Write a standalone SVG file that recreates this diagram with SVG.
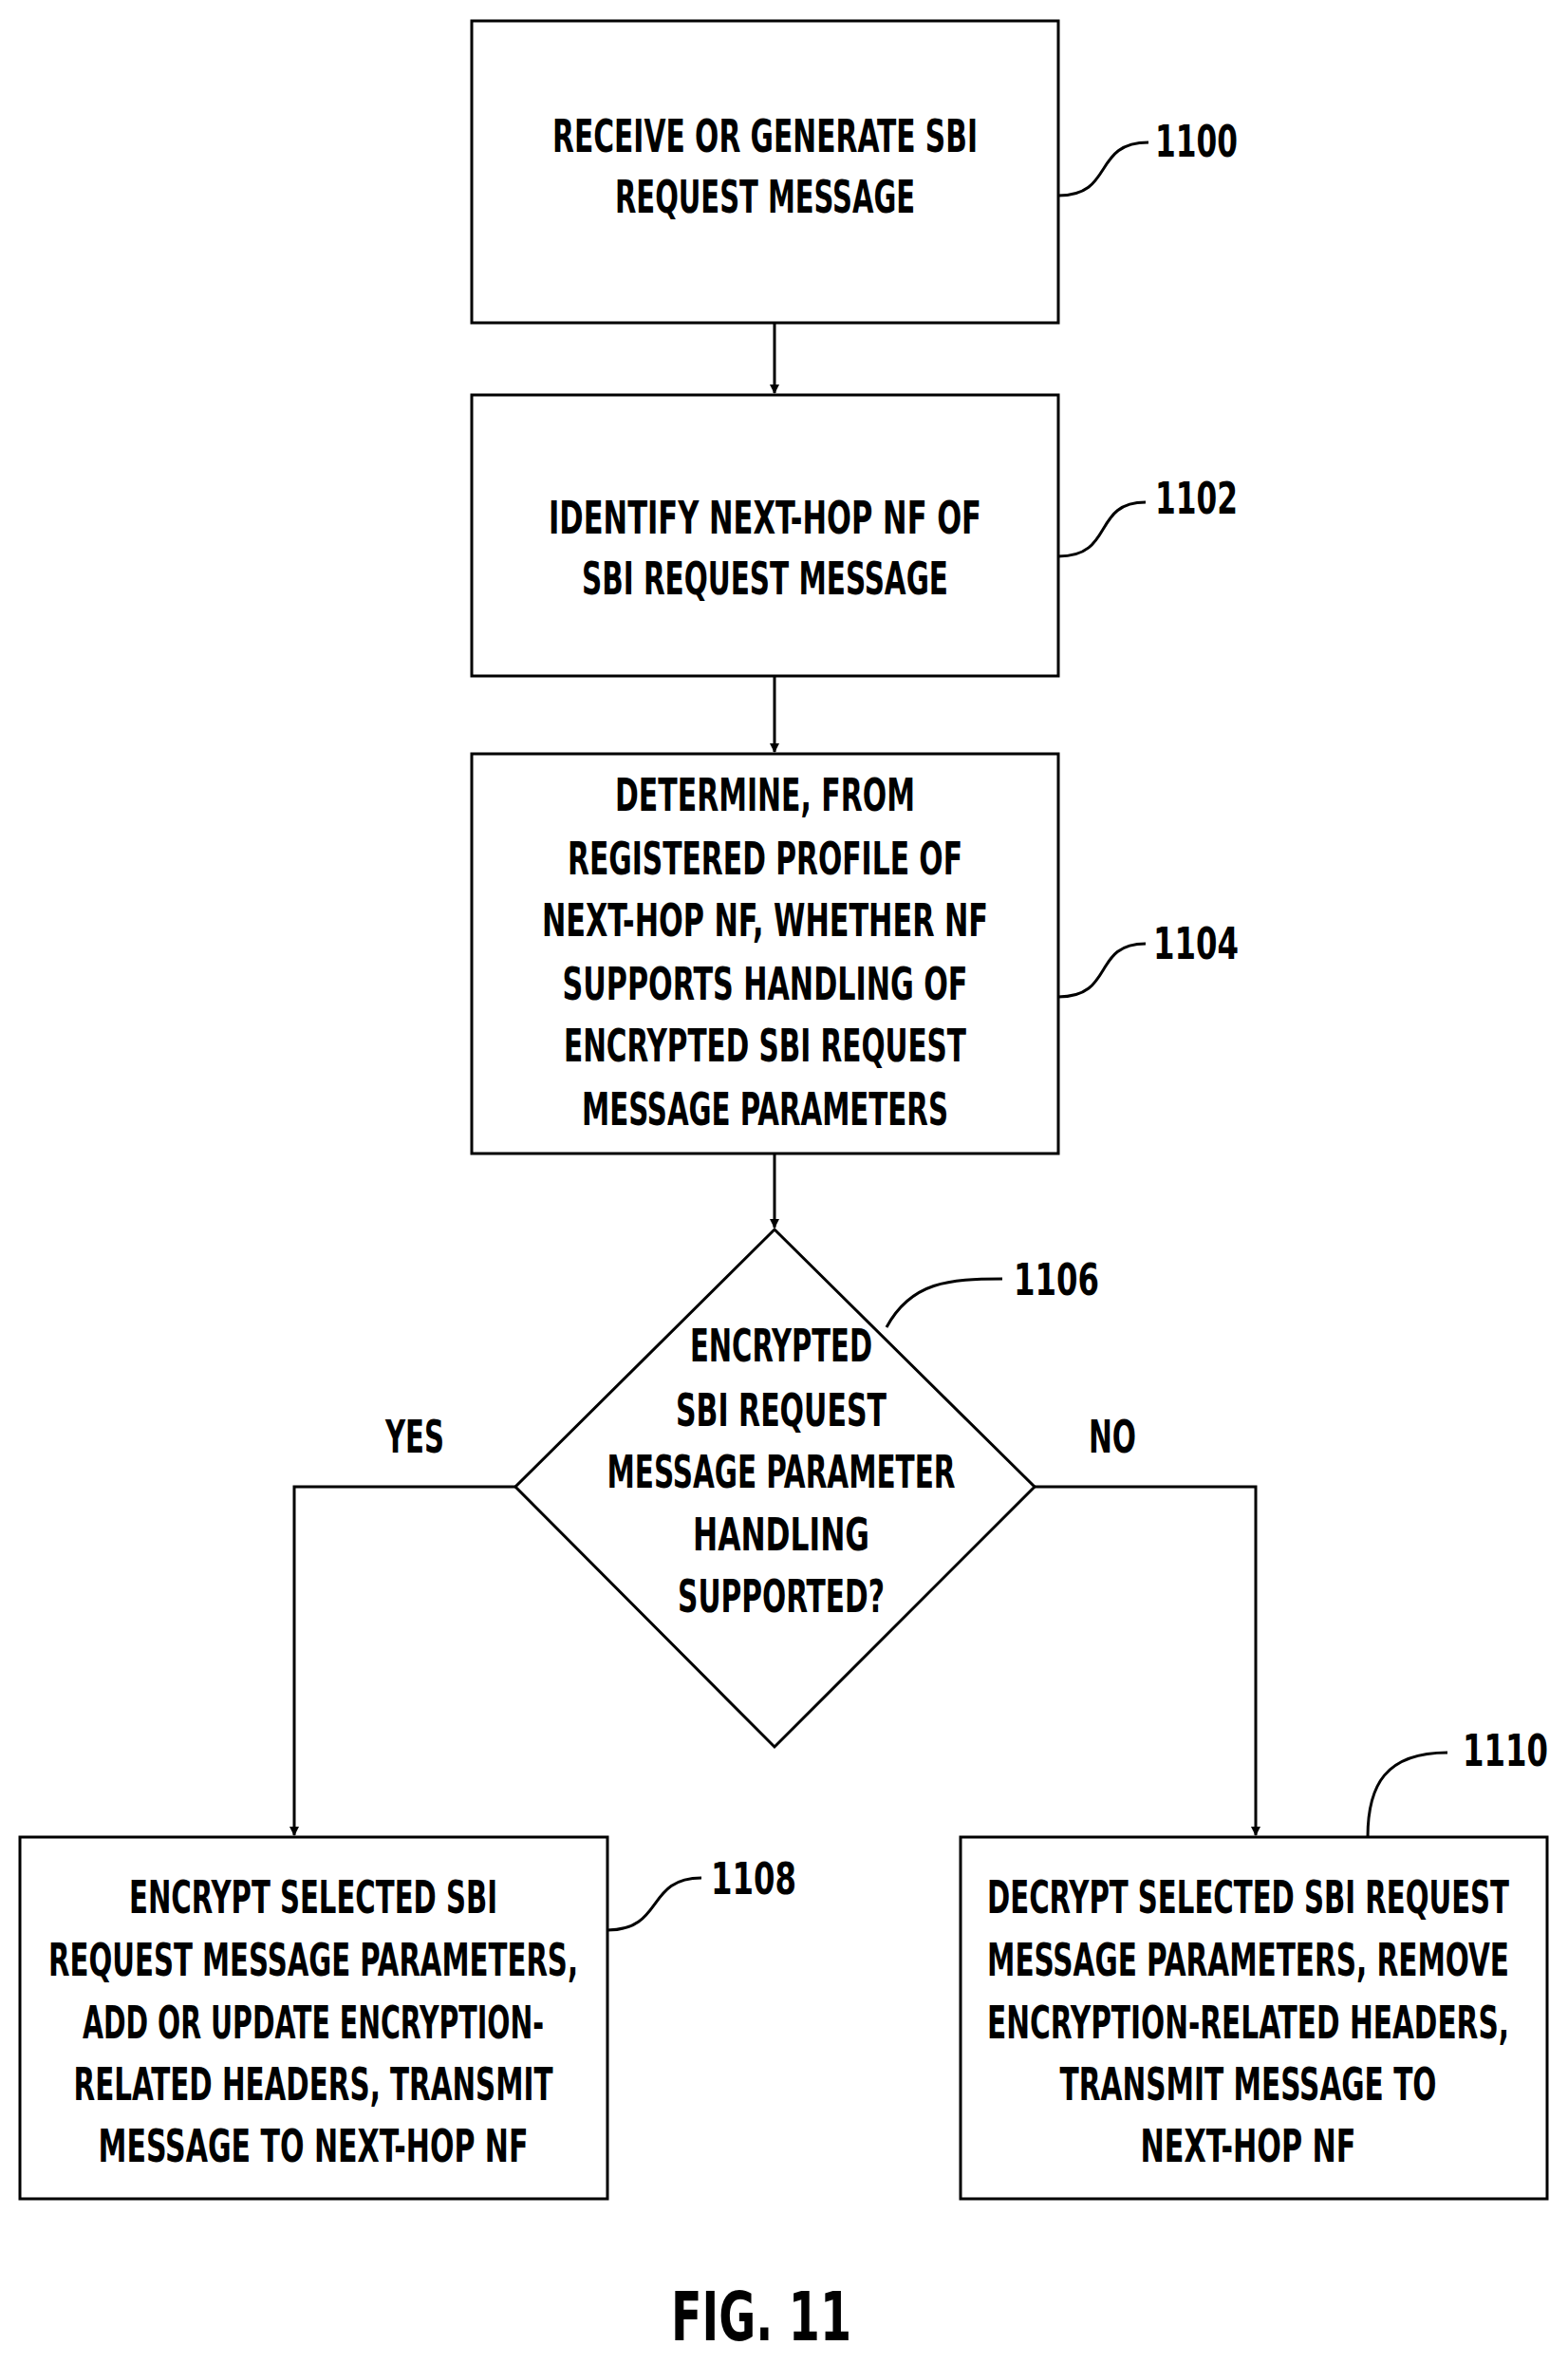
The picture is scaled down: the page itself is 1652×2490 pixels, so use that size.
<svg xmlns="http://www.w3.org/2000/svg" width="1652" height="2490" viewBox="0 0 1652 2490">
<style>
.b{fill:#fff;stroke:#000;stroke-width:3}
.t{font-family:"DejaVu Sans Condensed","DejaVu Sans",sans-serif;font-weight:bold;font-size:48px;text-anchor:middle}
.l{font-family:"DejaVu Sans Condensed","DejaVu Sans",sans-serif;font-weight:bold;font-size:46px}
.c{fill:none;stroke:#000;stroke-width:3}
</style>
<defs><marker id="a" markerWidth="10" markerHeight="10" refX="9" refY="5" orient="auto" markerUnits="userSpaceOnUse" viewBox="0 0 10 10"><path d="M0,0 L10,5 L0,10 z" fill="#000"/></marker></defs>
<g id="n1100"><rect class="b" x="497" y="22" width="618" height="318"/>
<text class="t" x="806" y="160" textLength="448" lengthAdjust="spacingAndGlyphs">RECEIVE OR GENERATE SBI</text>
<text class="t" x="806" y="224" textLength="316" lengthAdjust="spacingAndGlyphs">REQUEST MESSAGE</text></g>
<g id="n1102"><rect class="b" x="497" y="416" width="618" height="296"/>
<text class="t" x="806" y="562" textLength="456" lengthAdjust="spacingAndGlyphs">IDENTIFY NEXT-HOP NF OF</text>
<text class="t" x="806" y="626" textLength="386" lengthAdjust="spacingAndGlyphs">SBI REQUEST MESSAGE</text></g>
<g id="n1104"><rect class="b" x="497" y="794" width="618" height="421"/>
<text class="t" x="806" y="854" textLength="316" lengthAdjust="spacingAndGlyphs">DETERMINE, FROM</text>
<text class="t" x="806" y="921" textLength="416" lengthAdjust="spacingAndGlyphs">REGISTERED PROFILE OF</text>
<text class="t" x="806" y="986" textLength="470" lengthAdjust="spacingAndGlyphs">NEXT-HOP NF, WHETHER NF</text>
<text class="t" x="806" y="1053" textLength="427" lengthAdjust="spacingAndGlyphs">SUPPORTS HANDLING OF</text>
<text class="t" x="806" y="1118" textLength="424" lengthAdjust="spacingAndGlyphs">ENCRYPTED SBI REQUEST</text>
<text class="t" x="806" y="1185" textLength="386" lengthAdjust="spacingAndGlyphs">MESSAGE PARAMETERS</text></g>
<g id="n1106"><polygon class="b" points="816,1295 1090,1566 816,1840 543,1566"/>
<text class="t" x="823" y="1434" textLength="192" lengthAdjust="spacingAndGlyphs">ENCRYPTED</text>
<text class="t" x="823" y="1502" textLength="222" lengthAdjust="spacingAndGlyphs">SBI REQUEST</text>
<text class="t" x="823" y="1567" textLength="367" lengthAdjust="spacingAndGlyphs">MESSAGE PARAMETER</text>
<text class="t" x="823" y="1633" textLength="186" lengthAdjust="spacingAndGlyphs">HANDLING</text>
<text class="t" x="823" y="1698" textLength="218" lengthAdjust="spacingAndGlyphs">SUPPORTED?</text></g>
<g id="n1108"><rect class="b" x="21" y="1935" width="619" height="381"/>
<text class="t" x="330" y="2015" textLength="388" lengthAdjust="spacingAndGlyphs">ENCRYPT SELECTED SBI</text>
<text class="t" x="330" y="2081" textLength="558" lengthAdjust="spacingAndGlyphs">REQUEST MESSAGE PARAMETERS,</text>
<text class="t" x="330" y="2147" textLength="486" lengthAdjust="spacingAndGlyphs">ADD OR UPDATE ENCRYPTION-</text>
<text class="t" x="330" y="2212" textLength="505" lengthAdjust="spacingAndGlyphs">RELATED HEADERS, TRANSMIT</text>
<text class="t" x="330" y="2277" textLength="453" lengthAdjust="spacingAndGlyphs">MESSAGE TO NEXT-HOP NF</text></g>
<g id="n1110"><rect class="b" x="1012" y="1935" width="618" height="381"/>
<text class="t" x="1315" y="2015" textLength="550" lengthAdjust="spacingAndGlyphs">DECRYPT SELECTED SBI REQUEST</text>
<text class="t" x="1315" y="2081" textLength="550" lengthAdjust="spacingAndGlyphs">MESSAGE PARAMETERS, REMOVE</text>
<text class="t" x="1315" y="2147" textLength="550" lengthAdjust="spacingAndGlyphs">ENCRYPTION-RELATED HEADERS,</text>
<text class="t" x="1315" y="2212" textLength="397" lengthAdjust="spacingAndGlyphs">TRANSMIT MESSAGE TO</text>
<text class="t" x="1315" y="2277" textLength="227" lengthAdjust="spacingAndGlyphs">NEXT-HOP NF</text></g>
<g id="connectors">
<path class="c" d="M816,340 V414" marker-end="url(#a)"/>
<path class="c" d="M816,712 V792" marker-end="url(#a)"/>
<path class="c" d="M816,1215 V1293" marker-end="url(#a)"/>
<path class="c" d="M543,1566 H310 V1933" marker-end="url(#a)"/>
<path class="c" d="M1090,1566 H1323 V1933" marker-end="url(#a)"/>
<path class="c" d="M1115,206 C1175,206 1150,150 1210,150"/>
<path class="c" d="M1115,586 C1175,586 1150,529 1207,529"/>
<path class="c" d="M1115,1050 C1175,1050 1150,994 1207,994"/>
<path class="c" d="M934,1398 C960,1350 1000,1347 1056,1347"/>
<path class="c" d="M640,2033 C700,2033 680,1978 739,1978"/>
<path class="c" d="M1441,1935 C1441,1880 1460,1846 1525,1846"/>
</g>
<g id="labels">
<text class="l" x="1217" y="165" textLength="87" lengthAdjust="spacingAndGlyphs">1100</text>
<text class="l" x="1217" y="541" textLength="87" lengthAdjust="spacingAndGlyphs">1102</text>
<text class="l" x="1215" y="1010" textLength="90" lengthAdjust="spacingAndGlyphs">1104</text>
<text class="l" x="1068" y="1364" textLength="90" lengthAdjust="spacingAndGlyphs">1106</text>
<text class="l" x="749" y="1995" textLength="90" lengthAdjust="spacingAndGlyphs">1108</text>
<text class="l" x="1541" y="1860" textLength="90" lengthAdjust="spacingAndGlyphs">1110</text>
<text class="t" x="437" y="1530" textLength="62" lengthAdjust="spacingAndGlyphs">YES</text>
<text class="t" x="1172" y="1530" textLength="50" lengthAdjust="spacingAndGlyphs">NO</text>
<text class="t" x="802" y="2465" style="font-size:72px" textLength="190" lengthAdjust="spacingAndGlyphs">FIG. 11</text>
</g>
</svg>
